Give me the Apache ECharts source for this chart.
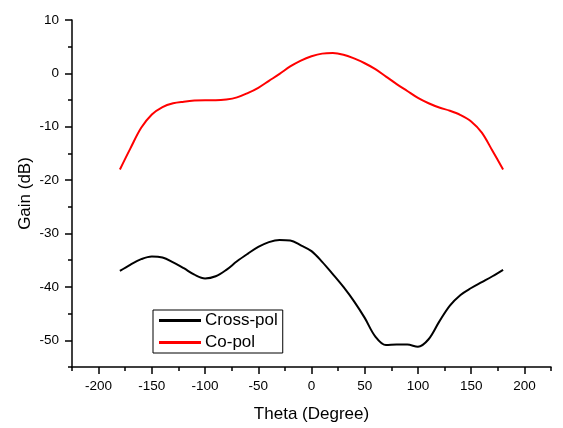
<!DOCTYPE html>
<html>
<head>
<meta charset="utf-8">
<script src="https://cdn.jsdelivr.net/npm/echarts@6/dist/echarts.min.js"></script>
<style>html,body{margin:0;padding:0;background:#fff}#c{width:563px;height:428px}</style>
</head>
<body>
<div id="c"></div>
<script>
const theta = [-180,-170,-160,-150,-140,-130,-120,-110,-100,-90,-80,-70,-60,-50,-40,-30,-20,-10,0,10,20,30,40,50,60,70,80,90,100,110,120,130,140,150,160,170,180];
const crossPol = [-37,-35.8,-34.8,-34.3,-34.5,-35.4,-36.5,-37.7,-38.4,-38.0,-36.8,-35.2,-33.8,-32.5,-31.6,-31.2,-31.3,-32.2,-33.3,-35.3,-37.6,-40.0,-42.7,-45.8,-49.3,-50.9,-50.8,-50.8,-51.2,-49.8,-46.5,-43.5,-41.5,-40.2,-39.1,-38.0,-36.8];
const coPol = [-18,-14,-10.2,-7.7,-6.3,-5.6,-5.3,-5.1,-5.05,-5.05,-4.9,-4.5,-3.7,-2.7,-1.4,-0.1,1.3,2.4,3.2,3.7,3.8,3.5,2.8,1.9,0.8,-0.6,-2.0,-3.3,-4.6,-5.6,-6.4,-7.0,-7.8,-9.0,-11.1,-14.5,-18];
const xMajor = [-200,-150,-100,-50,0,50,100,150,200];
const yMajor = [-50,-40,-30,-20,-10,0,10];
const seriesNames = ['Cross-pol','Co-pol'];

const FONT = 'Liberation Sans, Arial, sans-serif';
const chart = echarts.init(document.getElementById('c'));
const pairs = arr => theta.map((t,i)=>[t,arr[i]]);
chart.setOption({
  animation:false,
  backgroundColor:'#fff',
  grid:{left:72,right:12,top:20,bottom:56,containLabel:false},
  legend:{
    orient:'vertical',left:153,top:310,
    data:seriesNames,
    itemWidth:42,itemHeight:3,icon:'rect',itemGap:5,
    padding:[2,5,2,6],
    borderColor:'#000',borderWidth:1,borderRadius:0,
    textStyle:{fontFamily:FONT,fontSize:17,color:'#000',padding:[0,0,0,-1]}
  },
  xAxis:[{
    type:'value',min:-225,max:225,
    name:'Theta (Degree)',nameLocation:'middle',nameGap:39,nameMoveOverlap:false,
    nameTextStyle:{fontFamily:FONT,fontSize:17,color:'#000'},
    axisLine:{show:true,onZero:false,lineStyle:{color:'#000',width:1.5}},
    axisTick:{show:true,inside:false,length:7,customValues:xMajor,lineStyle:{color:'#000',width:1.5}},
    axisLabel:{customValues:xMajor,margin:12,fontFamily:FONT,fontSize:13.5,color:'#000'},
    splitLine:{show:false}
  },{
    type:'value',min:-225,max:225,interval:25,position:'bottom',
    axisLine:{show:false,onZero:false},
    axisTick:{show:true,length:4,lineStyle:{color:'#000',width:1.5}},
    axisLabel:{show:false},splitLine:{show:false}
  }],
  yAxis:[{
    type:'value',min:-55,max:10,
    name:'Gain (dB)',nameLocation:'middle',nameGap:38,nameMoveOverlap:false,
    nameTextStyle:{fontFamily:FONT,fontSize:17,color:'#000'},
    axisLine:{show:true,onZero:false,lineStyle:{color:'#000',width:1.5}},
    axisTick:{show:true,length:7,customValues:yMajor,lineStyle:{color:'#000',width:1.5}},
    axisLabel:{customValues:yMajor,margin:13,fontFamily:FONT,fontSize:13.5,color:'#000'},
    splitLine:{show:false}
  },{
    type:'value',min:-55,max:10,interval:5,position:'left',
    axisLine:{show:false,onZero:false},
    axisTick:{show:true,length:4,lineStyle:{color:'#000',width:1.5}},
    axisLabel:{show:false},splitLine:{show:false}
  }],
  series:[
    {name:seriesNames[0],type:'line',data:pairs(crossPol),smooth:0.35,showSymbol:false,symbol:'none',
     lineStyle:{color:'#000',width:2},itemStyle:{color:'#000'}},
    {name:seriesNames[1],type:'line',data:pairs(coPol),smooth:0.35,showSymbol:false,symbol:'none',
     lineStyle:{color:'#ff0000',width:2},itemStyle:{color:'#ff0000'}}
  ]
});
</script>
</body>
</html>
